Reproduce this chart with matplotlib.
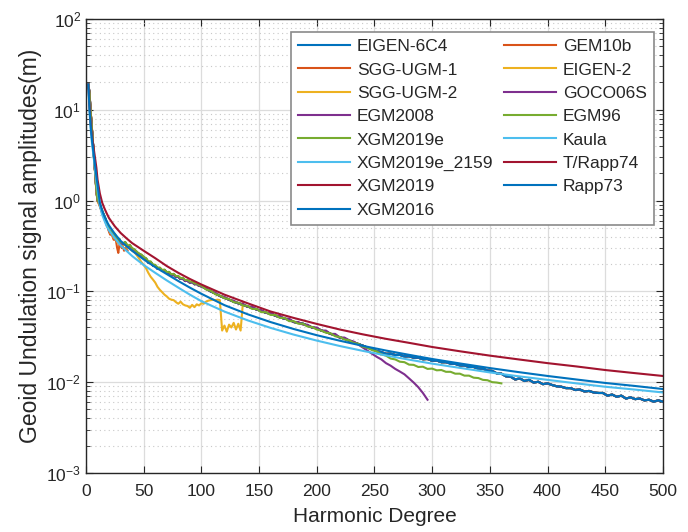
import numpy as np
import matplotlib
matplotlib.use("Agg")
import matplotlib.pyplot as plt
from matplotlib.ticker import LogLocator, FixedLocator, NullFormatter

plt.rcParams['font.family'] = ['Liberation Sans', 'DejaVu Sans']
plt.rcParams['mathtext.fontset'] = 'custom'
plt.rcParams['mathtext.rm'] = 'Liberation Sans'
plt.rcParams['mathtext.it'] = 'Liberation Sans'
plt.rcParams['mathtext.default'] = 'regular'

# ---------------- data ----------------
# degrees for noisy model curves
deg_a = np.arange(2, 31)            # 2..30
deg_b = np.arange(32, 101, 2)       # 32..100
deg_c_500 = np.arange(104, 501, 4)  # 104..500
deg_c_360 = np.arange(104, 361, 4)  # 104..360
deg_c_296 = np.arange(104, 297, 4)  # 104..296

xgm2016_a = [19.0, 15.5, 9.6, 6.4, 4.3, 2.9, 2.0, 1.3, 1.0, 0.96, 0.90, 0.82, 0.76, 0.71,
             0.66, 0.62, 0.56, 0.52, 0.47, 0.45, 0.46, 0.42, 0.40, 0.42, 0.39, 0.36, 0.35,
             0.37, 0.34]
xgm2016_b = [0.33, 0.345, 0.31, 0.318, 0.292, 0.285, 0.268, 0.258, 0.248, 0.235, 0.228,
             0.208, 0.21, 0.193, 0.192, 0.178, 0.18, 0.168, 0.171, 0.160, 0.162, 0.150,
             0.153, 0.144, 0.145, 0.137, 0.138, 0.130, 0.131, 0.125, 0.127, 0.120, 0.121,
             0.115, 0.114]
xgm2016_c = [0.107, 0.100, 0.095, 0.089, 0.085, 0.081, 0.077, 0.074, 0.071, 0.068,
             0.066, 0.063, 0.061, 0.058, 0.057, 0.054, 0.052, 0.050, 0.049, 0.046,
             0.045, 0.044, 0.042, 0.040, 0.0392, 0.0370, 0.0358, 0.0340, 0.0330, 0.0310,
             0.0302, 0.0286, 0.0274, 0.0262, 0.0252, 0.0240, 0.0231, 0.0220, 0.0214, 0.0205,
             0.0206, 0.0199, 0.0200, 0.0192, 0.0193, 0.0186, 0.0186, 0.0179, 0.0180, 0.0172,
             0.0173, 0.0166, 0.0166, 0.0160, 0.0159, 0.0153, 0.0153, 0.0147, 0.0147, 0.0141,
             0.0141, 0.0134,
             0.0133, 0.0125, 0.0124, 0.0116, 0.0115, 0.0107, 0.0110, 0.0103, 0.0106, 0.0099,
             0.0101, 0.0095, 0.0097, 0.0093, 0.0090, 0.0089, 0.0086, 0.0086, 0.0082, 0.0083,
             0.0079, 0.0080, 0.0077, 0.0076, 0.0076, 0.0071, 0.0073, 0.0069, 0.0071, 0.0066,
             0.0068, 0.0065, 0.0066, 0.0063, 0.0064, 0.0061, 0.0063, 0.0061]

egm96_a = [19.0, 15.2, 9.5, 6.5, 4.4, 3.0, 2.05, 1.35, 1.02, 0.97, 0.92, 0.84, 0.78, 0.72,
           0.67, 0.63, 0.57, 0.53, 0.48, 0.46, 0.47, 0.43, 0.41, 0.43, 0.40, 0.37, 0.36,
           0.38, 0.35]
egm96_b = [0.34, 0.35, 0.32, 0.325, 0.30, 0.29, 0.275, 0.26, 0.255, 0.24, 0.232, 0.215,
           0.214, 0.198, 0.196, 0.183, 0.183, 0.172, 0.174, 0.163, 0.164, 0.154, 0.156,
           0.147, 0.148, 0.140, 0.141, 0.133, 0.134, 0.128, 0.129, 0.122, 0.123, 0.117,
           0.116]
egm96_c = [0.105, 0.102, 0.093, 0.090, 0.084, 0.082, 0.076, 0.075, 0.070, 0.069, 0.064,
           0.064, 0.059, 0.059, 0.055, 0.055, 0.051, 0.051, 0.047, 0.047, 0.044, 0.044,
           0.041, 0.0405, 0.038, 0.037, 0.035, 0.0345, 0.032, 0.0315, 0.0295, 0.029,
           0.027, 0.0265, 0.0245, 0.024, 0.0225, 0.0218, 0.0202, 0.0196, 0.0182, 0.0178,
           0.0168, 0.0166, 0.0156, 0.0155, 0.0147, 0.0148, 0.0140, 0.0141, 0.0135, 0.0136,
           0.0130, 0.0130, 0.0124, 0.0124, 0.0118, 0.0118, 0.0112, 0.0111, 0.0106, 0.0105,
           0.0100, 0.0099, 0.0097]

goco06s_c = [0.108, 0.101, 0.096, 0.089, 0.087, 0.081, 0.079, 0.074, 0.073, 0.068, 0.068,
             0.063, 0.062, 0.058, 0.058, 0.054, 0.054, 0.050, 0.050, 0.046, 0.046, 0.043,
             0.043, 0.040, 0.040, 0.037, 0.037, 0.034, 0.034, 0.031, 0.031, 0.029, 0.028,
             0.026, 0.024, 0.0222, 0.0205, 0.0190, 0.0178, 0.0162, 0.0152, 0.0140, 0.0131,
             0.0122, 0.0110, 0.0099, 0.0088, 0.0076, 0.0064]

deg_eigen2 = np.concatenate([np.arange(2, 31), np.arange(32, 137, 2)])
eigen2_vals = [19.0, 15.0, 9.4, 6.3, 4.2, 2.8, 1.9, 1.25, 0.98, 0.93, 0.88, 0.80, 0.75, 0.70,
               0.65, 0.60, 0.55, 0.51, 0.47, 0.44, 0.45, 0.41, 0.39, 0.41, 0.38, 0.35, 0.34,
               0.36, 0.33,
               0.32, 0.33, 0.30, 0.30, 0.28, 0.27, 0.25, 0.23, 0.21, 0.195, 0.18, 0.16, 0.145,
               0.135, 0.125, 0.112, 0.104, 0.098, 0.092, 0.088, 0.083, 0.081, 0.080, 0.076,
               0.073, 0.077, 0.072, 0.070, 0.069, 0.066, 0.071, 0.067, 0.072, 0.070, 0.074,
               0.073, 0.077, 0.079, 0.080, 0.081, 0.080, 0.081, 0.080, 0.037, 0.042, 0.036,
               0.043, 0.040, 0.045, 0.038, 0.044, 0.037, 0.075]

deg_gem10b = np.arange(2, 37)
gem10b_vals = [19.0, 15.0, 9.8, 6.6, 4.4, 3.0, 2.0, 1.35, 1.0, 0.93, 0.86, 0.80, 0.72, 0.68,
               0.63, 0.58, 0.53, 0.50, 0.45, 0.42, 0.43, 0.40, 0.37, 0.38, 0.36, 0.30, 0.265,
               0.33, 0.32, 0.30, 0.31, 0.28, 0.30, 0.29, 0.28]

# smooth degree-variance models
deg_model = [2, 3, 4, 5, 6, 7, 8, 9, 10, 12, 14, 16, 18, 20, 25, 30, 35, 40, 50, 60, 70,
             80, 90, 100, 120, 140, 160, 180, 200, 220, 240, 260, 280, 300, 325, 350, 375,
             400, 425, 450, 475, 500]
trapp74_vals = [19, 11.5, 7.4, 5.4, 4.3, 3.5, 2.85, 2.3, 1.7, 1.2, 0.95, 0.82, 0.72, 0.64,
                0.52, 0.44, 0.385, 0.34, 0.28, 0.232, 0.19, 0.16, 0.137, 0.119, 0.092,
                0.074, 0.060, 0.051, 0.0438, 0.038, 0.0336, 0.030, 0.0271, 0.0244, 0.0218,
                0.0196, 0.0178, 0.0162, 0.0149, 0.0136, 0.0126, 0.0117]
rapp73_vals = [19, 10.5, 6.8, 4.9, 3.8, 3.0, 2.35, 1.85, 1.5, 0.95, 0.78, 0.67, 0.59, 0.53,
               0.43, 0.36, 0.315, 0.28, 0.225, 0.185, 0.155, 0.130, 0.110, 0.094, 0.0705,
               0.056, 0.0459, 0.0385, 0.0329, 0.0286, 0.0251, 0.0223, 0.0200, 0.0180, 0.0160,
               0.0143, 0.0129, 0.0117, 0.0107, 0.0098, 0.0091, 0.0084]
kaula_vals = [19, 9.8, 6.2, 4.5, 3.5, 2.75, 2.1, 1.65, 1.32, 0.88, 0.70, 0.60, 0.52, 0.47,
              0.385, 0.32, 0.28, 0.245, 0.195, 0.16, 0.132, 0.11, 0.092, 0.078, 0.0599,
              0.048, 0.0396, 0.0334, 0.0287, 0.0250, 0.0221, 0.0197, 0.0177, 0.0160, 0.0143,
              0.0128, 0.0116, 0.0106, 0.0097, 0.0089, 0.0083, 0.0077]

# ---------------- colours ----------------
C_BLUE, C_ORANGE, C_YELLOW = '#0072BD', '#D95319', '#EDB120'
C_PURPLE, C_GREEN, C_LBLUE, C_RED = '#7E2F8E', '#77AC30', '#4DBEEE', '#A2142F'

fig = plt.figure(figsize=(6.88, 5.32), dpi=100)
ax = fig.add_axes([0.125, 0.111, 0.8385, 0.8533])

lw = 1.5
deg_full = np.concatenate([deg_a, deg_b, deg_c_500])
xgm2016 = np.concatenate([xgm2016_a, xgm2016_b, xgm2016_c])
deg_96 = np.concatenate([deg_a, deg_b, deg_c_360])
egm96 = np.concatenate([egm96_a, egm96_b, egm96_c])
deg_goco = np.concatenate([deg_a, deg_b, deg_c_296])
goco06s = np.concatenate([xgm2016_a, xgm2016_b, goco06s_c])

h = {}
# high-resolution models (overlapping, up to degree 500 in this view)
h['EIGEN-6C4'], = ax.plot(deg_full, xgm2016, color=C_BLUE, lw=lw)
h['SGG-UGM-1'], = ax.plot(deg_full, xgm2016, color=C_ORANGE, lw=lw)
h['SGG-UGM-2'], = ax.plot(deg_full, xgm2016, color=C_YELLOW, lw=lw)
h['EGM2008'], = ax.plot(deg_full, xgm2016, color=C_PURPLE, lw=lw)
h['XGM2019e'], = ax.plot(deg_full, xgm2016, color=C_GREEN, lw=lw)
h['XGM2019e_2159'], = ax.plot(deg_full, xgm2016, color=C_LBLUE, lw=lw)
h['XGM2019'], = ax.plot(deg_full, xgm2016, color=C_RED, lw=lw)
h['XGM2016'], = ax.plot(deg_full, xgm2016, color=C_BLUE, lw=lw)
h['GEM10b'], = ax.plot(deg_gem10b, gem10b_vals, color=C_ORANGE, lw=lw)
h['EIGEN-2'], = ax.plot(deg_eigen2, eigen2_vals, color=C_YELLOW, lw=lw)
h['GOCO06S'], = ax.plot(deg_goco, goco06s, color=C_PURPLE, lw=lw)
h['EGM96'], = ax.plot(deg_96, egm96, color=C_GREEN, lw=lw)
h['Kaula'], = ax.plot(deg_model, kaula_vals, color=C_LBLUE, lw=lw)
h['T/Rapp74'], = ax.plot(deg_model, trapp74_vals, color=C_RED, lw=lw)
h['Rapp73'], = ax.plot(deg_model, rapp73_vals, color=C_BLUE, lw=lw)

ax.set_yscale('log')
ax.set_xlim(0, 500)
ax.set_ylim(1e-3, 1e2)
ax.set_xticks(np.arange(0, 501, 50))
ax.yaxis.set_major_locator(FixedLocator([1e-3, 1e-2, 1e-1, 1, 10, 100]))
ax.set_yticklabels([r'$10^{-3}$', r'$10^{-2}$', r'$10^{-1}$', r'$10^{0}$', r'$10^{1}$', r'$10^{2}$'])
ax.yaxis.set_minor_locator(LogLocator(base=10, subs=np.arange(2, 10), numticks=20))
ax.yaxis.set_minor_formatter(NullFormatter())

ax.grid(True, which='major', color='#dcdcdc', lw=0.9, ls='-')
ax.grid(True, which='minor', axis='y', color='#c8c8c8', lw=0.8, ls=(0, (1, 3)))
ax.set_axisbelow(True)
ax.tick_params(which='both', direction='in', top=True, right=True, colors='#262626',
               labelcolor='#262626', labelsize=12.5)
ax.tick_params(which='major', length=5)
ax.tick_params(which='minor', length=3)
ax.tick_params(axis='x', pad=8)
for s in ax.spines.values():
    s.set_color('#262626')
    s.set_linewidth(1.0)

ax.set_xlabel('Harmonic Degree', fontsize=15, color='#262626', labelpad=6)
ax.set_ylabel('Geoid Undulation signal amplitudes(m)', fontsize=16.5, color='#262626',
              labelpad=3)

col1 = ['EIGEN-6C4', 'SGG-UGM-1', 'SGG-UGM-2', 'EGM2008', 'XGM2019e', 'XGM2019e_2159',
        'XGM2019', 'XGM2016']
col2 = ['GEM10b', 'EIGEN-2', 'GOCO06S', 'EGM96', 'Kaula', 'T/Rapp74', 'Rapp73']
labels = col1 + col2
leg = ax.legend([h[k] for k in labels], labels, ncol=2, loc='upper right',
                bbox_to_anchor=(0.984, 0.971), borderaxespad=0, fontsize=12.5,
                handlelength=3.0, handletextpad=0.4, columnspacing=0.6,
                labelspacing=0.47, borderpad=0.4, fancybox=False, framealpha=1)
leg.get_frame().set_edgecolor('#8a8a8a')
leg.get_frame().set_linewidth(1.2)
for t in leg.get_texts():
    t.set_color('#262626')

fig.savefig('out.png', dpi=100)
